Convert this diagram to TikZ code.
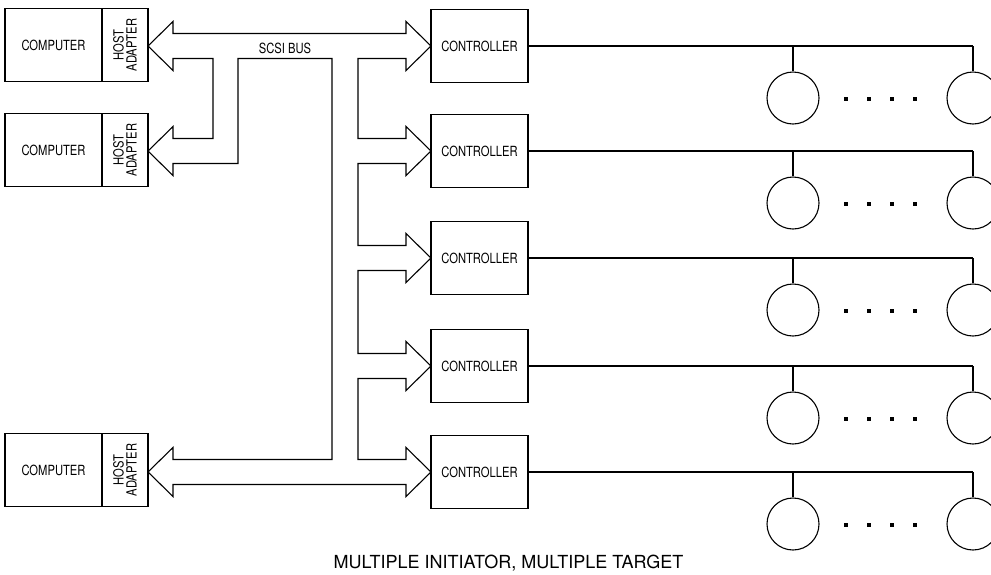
\documentclass[tikz,border=0pt]{standalone}
\usepackage{fontspec}
\setmainfont{TeX Gyre Heros}
\newfontfamily\narrowfont[FakeStretch=0.8]{TeX Gyre Heros}
\begin{document}
\begin{tikzpicture}[x=1pt,y=-1pt,line width=1.1pt,line join=miter,
  box/.style={draw, inner sep=0pt, minimum height=73pt, align=center,
    font=\narrowfont\fontsize{14}{13}\selectfont},
  disk/.style={draw, circle, inner sep=0pt, minimum size=52pt},
  lab/.style={inner sep=0pt, font=\narrowfont\fontsize{14}{13}\selectfont}]
\useasboundingbox (0,0) rectangle (991,574);
% computers and host adapters
\foreach \c [count=\i] in {45,150,470}{
  \node[box, minimum width=97pt] (comp\i) at (53.5,\c) {COMPUTER};
  \node[box, rotate=90, minimum width=73pt, minimum height=46pt] (ad\i) at (125,\c) {HOST\\ADAPTER};
}
% controllers and drives
\foreach \c [count=\i] in {46,151,258,366,472}{
  \node[box, minimum width=97pt] (ctl\i) at (479.5,\c) {CONTROLLER};
  \coordinate (ja\i) at (793,\c);
  \coordinate (jb\i) at (973,\c);
  \node[disk] (da\i) at (793,\c+52) {};
  \node[disk] (db\i) at (973,\c+52) {};
  \draw (ctl\i.east) -- (jb\i);
  \draw (ja\i) -- (da\i.north);
  \draw (jb\i) -- (db\i.north);
  \foreach \x in {846,869,892,915}{
    \fill (\x-2,\c+51) rectangle (\x+2,\c+55);
  }
}
% SCSI bus outline
\draw (173,58.5) -- (173,70.5) -- (148,46) -- (173,21.5) -- (173,33.5)
  -- (406,33.5) -- (406,21.5) -- (431,46) -- (406,70.5) -- (406,58.5)
  -- (358,58.5) -- (358,138.5) -- (406,138.5) -- (406,126.5) -- (431,151)
  -- (406,175.5) -- (406,163.5) -- (358,163.5) -- (358,245.5) -- (406,245.5)
  -- (406,233.5) -- (431,258) -- (406,282.5) -- (406,270.5) -- (358,270.5)
  -- (358,353.5) -- (406,353.5) -- (406,341.5) -- (431,366) -- (406,390.5)
  -- (406,378.5) -- (358,378.5) -- (358,459.5) -- (406,459.5) -- (406,447.5)
  -- (431,472) -- (406,496.5) -- (406,484.5) -- (173,484.5) -- (173,496.5)
  -- (148,472) -- (173,447.5) -- (173,459.5) -- (332,459.5) -- (332,58.5)
  -- (238,58.5) -- (238,163.5) -- (173,163.5) -- (173,175.5) -- (148,151)
  -- (173,126.5) -- (173,138.5) -- (213,138.5) -- (213,58.5) -- cycle;
\node[lab] (bus) at (285,48) {SCSI BUS};
\node[anchor=base west, inner sep=0pt, font=\fontsize{18}{20}\selectfont] (title) at (333,568)
  {MULTIPLE INITIATOR, MULTIPLE TARGET};
\end{tikzpicture}
\end{document}
